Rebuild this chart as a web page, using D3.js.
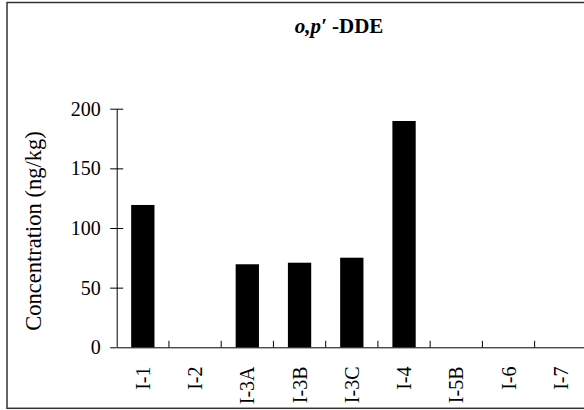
<!DOCTYPE html>
<html>
<head>
<meta charset="utf-8">
<script src="https://cdn.jsdelivr.net/npm/d3@7"></script>
<style>
  html, body { margin: 0; padding: 0; background: #fff; }
  svg { display: block; }
  text { font-family: "Liberation Serif", "Times New Roman", serif; fill: #000; }
</style>
</head>
<body>
<svg id="chart" width="584" height="410"></svg>
<script>
const categories = ["I-1", "I-2", "I-3A", "I-3B", "I-3C", "I-4", "I-5B", "I-6", "I-7"];
const values = [119.3, null, 69.6, 70.9, 75.1, 189.7, null, null, null];
const yTicks = [0, 50, 100, 150, 200];
const titleItalic = "o,p\u2032";
const titleRest = " -DDE";
const yLabel = "Concentration (ng/kg)";

(function () {
const svg = d3.select("#chart");
const plotLeft = 116.7, plotRight = 586.9, plotTop = 108.7, plotBottom = 347.3;

// frame
svg.append("rect")
  .attr("x", 7).attr("y", 2.5).attr("width", 640).attr("height", 405.8)
  .attr("fill", "none").attr("stroke", "#333").attr("stroke-width", 1.5);

const x = d3.scaleBand().domain(categories).range([plotLeft, plotRight]).padding(0);
const y = d3.scaleLinear().domain([0, 200]).range([plotBottom, plotTop]);

const barFrac = 0.446;
const data = categories.map((c, i) => ({ c, v: values[i] })).filter(d => d.v != null);

svg.append("g").selectAll("rect").data(data).enter().append("rect")
  .attr("x", d => x(d.c) + x.bandwidth() * (1 - barFrac) / 2)
  .attr("width", x.bandwidth() * barFrac)
  .attr("y", d => y(d.v))
  .attr("height", d => y(0) - y(d.v))
  .attr("fill", "#000");

// y axis
const yAxis = svg.append("g").attr("transform", `translate(${plotLeft},0)`)
  .call(d3.axisLeft(y).tickValues(yTicks).tickSizeInner(6.5).tickSizeOuter(0).tickPadding(9.5));
yAxis.select(".domain").attr("stroke", "#000").attr("stroke-width", 1);
yAxis.selectAll(".tick line").attr("x2", -6.5).attr("x1", d => d === 0 ? 0 : 6.5).attr("stroke", "#000");
yAxis.selectAll(".tick text").attr("font-size", 20).attr("fill", "#000");

// x axis
const xAxis = svg.append("g").attr("transform", `translate(0,${plotBottom})`)
  .call(d3.axisBottom(x).tickSize(0).tickSizeOuter(0).tickFormat(""));
xAxis.select(".domain").attr("stroke", "#000").attr("stroke-width", 1);
xAxis.selectAll(".tick").remove();
const bounds = categories.slice(1).map(c => x(c));
xAxis.selectAll("line.b").data(bounds).enter().append("line")
  .attr("x1", d => d).attr("x2", d => d).attr("y1", 0).attr("y2", -6.5)
  .attr("stroke", "#000");
svg.append("g").selectAll("text").data(categories).enter().append("text")
  .attr("transform", d => `translate(${x(d) + x.bandwidth() / 2},366.5) rotate(-90)`)
  .attr("text-anchor", "end").attr("dy", "0.35em")
  .attr("font-size", 20)
  .text(d => d);

// y label
svg.append("text")
  .attr("transform", `translate(33,231) rotate(-90)`)
  .attr("text-anchor", "middle").attr("dy", "0.35em")
  .attr("font-size", 22.5)
  .text(yLabel);

// title
const t = svg.append("text").attr("x", 339).attr("y", 33)
  .attr("text-anchor", "middle").attr("font-size", 21).attr("font-weight", "bold");
t.append("tspan").attr("font-style", "italic").text(titleItalic);
t.append("tspan").text(titleRest);
})();
</script>
</body>
</html>
